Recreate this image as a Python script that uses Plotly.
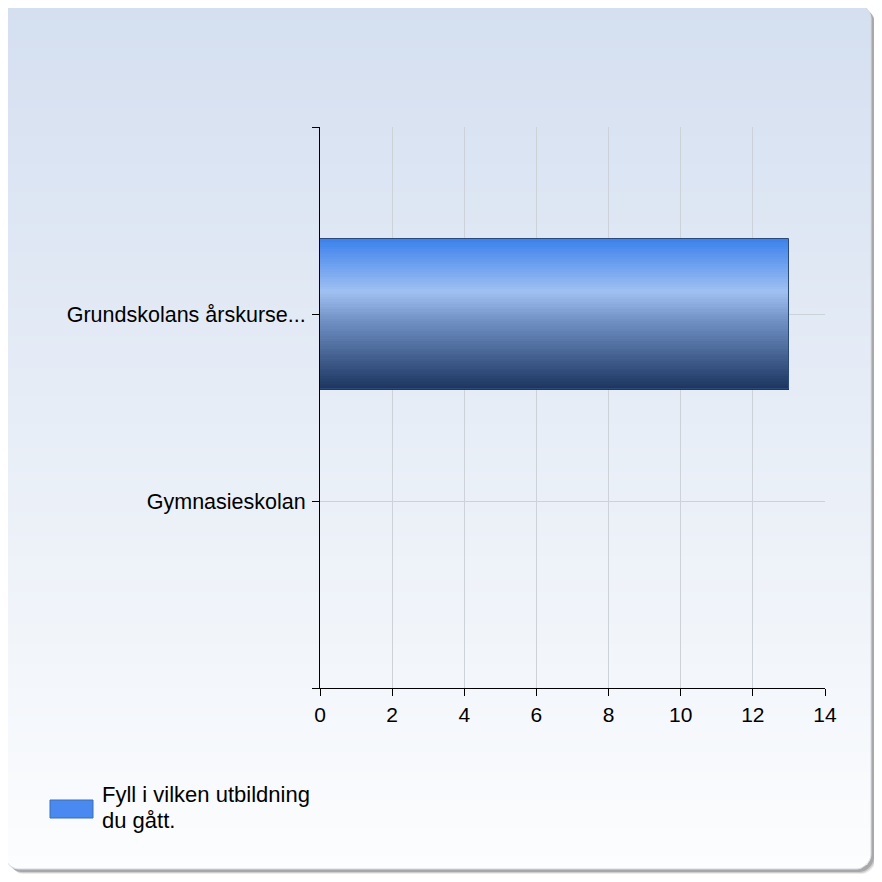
import plotly.graph_objects as go
import numpy as np

# data
categories = ["Grundskolans årskurse...", "Gymnasieskolan"]
counts = [13, 0]
series_name = "Fyll i vilken utbildning du gått."
x_ticks = [0, 2, 4, 6, 8, 10, 12, 14]

# page body has an 8px margin, so work in shifted pixel coordinates
OFF = 8
W, H = 874, 874
ML, MT = 320 - OFF, 127 - OFF
MR, MB = W - (825 - OFF), H - (688 - OFF)
PW, PH = W - ML - MR, H - MT - MB
FONT = "Arial, Liberation Sans, sans-serif"

# bar gradient (top -> bottom)
bar_stops = [(0.0, (60, 130, 236)), (0.35, (160, 192, 242)),
             (0.55, (112, 144, 196)), (1.0, (28, 53, 96))]


def px(x):
    return (x - OFF - ML) / PW


def py(y):
    return 1 - (y - OFF - MT) / PH


def interp(stops, t):
    for (t0, c0), (t1, c1) in zip(stops[:-1], stops[1:]):
        if t <= t1:
            f = (t - t0) / (t1 - t0) if t1 > t0 else 0
            return tuple(int(round(a + (b - a) * f)) for a, b in zip(c0, c1))
    return stops[-1][1]


def rrect_path(x0, y0, x1, y1, r):
    # rounded rect in reference pixels -> paper path
    k = 0.45 * r
    pts = [
        ("M", x0 + r, y0), ("L", x1 - r, y0),
        ("C", x1 - r + k, y0, x1, y0 + r - k, x1, y0 + r),
        ("L", x1, y1 - r),
        ("C", x1, y1 - r + k, x1 - r + k, y1, x1 - r, y1),
        ("L", x0 + r, y1),
        ("C", x0 + r - k, y1, x0, y1 - r + k, x0, y1 - r),
        ("L", x0, y0 + r),
        ("C", x0, y0 + r - k, x0 + r - k, y0, x0 + r, y0),
    ]
    out = []
    for p in pts:
        cmd, vals = p[0], p[1:]
        coords = []
        for i in range(0, len(vals), 2):
            coords.append(f"{px(vals[i]):.5f},{py(vals[i + 1]):.5f}")
        out.append(cmd + " ".join(coords))
    return " ".join(out) + " Z"


fig = go.Figure()

# gradient bar as thin bands
n_bands = 60
bar_w = 0.8
band = bar_w / n_bands
for i in range(n_bands):
    c = interp(bar_stops, (i + 0.5) / n_bands)
    fig.add_trace(go.Bar(
        y=[1, 2], x=counts, orientation="h",
        width=band * 1.6, offset=-bar_w / 2 + i * band,
        marker=dict(color=f"rgb{c}", line_width=0),
        showlegend=False, hoverinfo="skip",
    ))
# outline
fig.add_trace(go.Bar(
    y=[1, 2], x=counts, orientation="h", width=bar_w,
    marker=dict(color="rgba(0,0,0,0)", line=dict(color="#2b4a78", width=1)),
    name=series_name, showlegend=False,
))

shapes = []
# panel shadow
X0, Y0, X1, Y1, R = 4, 4, 871, 869, 14
for off, a in [(5, 0.08), (4, 0.12), (3, 0.18)]:
    shapes.append(dict(type="path", xref="paper", yref="paper", layer="below",
                       path=rrect_path(X0 + off, Y0 + off, X1 + off, Y1 + off, R),
                       fillcolor=f"rgba(0,0,0,{a})", line_width=0))
shapes.append(dict(type="path", xref="paper", yref="paper", layer="below",
                   path=rrect_path(X0, Y0, X1, Y1, R),
                   fillcolor="#ffffff", line_width=0))

# panel gradient strips
bg_top, bg_bot = (212, 223, 240), (252, 253, 254)
step = 4


def inset(yy):
    d = min(yy - Y0, Y1 - yy)
    if d >= R:
        return 0
    return R - np.sqrt(max(R * R - (R - d) ** 2, 0))


for y in range(Y0, Y1, step):
    ya, yb = y, min(y + step + 1, Y1)
    ia, ib = inset(ya), inset(yb)
    t = (y - Y0) / (Y1 - Y0)
    c = tuple(int(round(a + (b - a) * t)) for a, b in zip(bg_top, bg_bot))
    path = (f"M{px(X0 + ia):.5f},{py(ya):.5f} L{px(X1 - ia):.5f},{py(ya):.5f} "
            f"L{px(X1 - ib):.5f},{py(yb):.5f} L{px(X0 + ib):.5f},{py(yb):.5f} Z")
    shapes.append(dict(type="path", xref="paper", yref="paper", layer="below",
                       path=path, fillcolor=f"rgb{c}", line_width=0))

shapes.append(dict(type="path", xref="paper", yref="paper", layer="below",
                   path=rrect_path(X0, Y0, X1, Y1, R),
                   fillcolor="rgba(0,0,0,0)", line=dict(color="#d6dbe3", width=1)))

# legend swatch
shapes.append(dict(type="rect", xref="paper", yref="paper",
                   x0=px(50), x1=px(93), y0=py(818), y1=py(800),
                   fillcolor="#4a8af0", line=dict(color="#3a6cb8", width=1)))

# legend text, wrapped onto two tight lines
legend_lines = series_name.replace("utbildning ", "utbildning\n").split("\n")
annotations = []
for k, line in enumerate(legend_lines):
    annotations.append(dict(
        xref="paper", yref="paper", x=px(100), y=py(780 + 26 * k),
        xanchor="left", yanchor="top", align="left", showarrow=False,
        text=line, font=dict(family=FONT, size=22, color="#000000"),
    ))

fig.update_layout(
    width=W, height=H, autosize=False,
    margin=dict(l=ML, r=MR, t=MT, b=MB, pad=0),
    paper_bgcolor="#ffffff", plot_bgcolor="rgba(0,0,0,0)",
    barmode="overlay", bargap=0,
    font=dict(family=FONT, size=21, color="#000000"),
    shapes=shapes, annotations=annotations, showlegend=False,
)
fig.update_xaxes(
    range=[0, 14], tickvals=x_ticks, showgrid=True, gridcolor="#cdd1d8",
    gridwidth=1, zeroline=False, showline=True, linecolor="#000000",
    linewidth=1, ticks="outside", ticklen=7, tickcolor="#000000",
    tickfont=dict(size=21), ticklabelstandoff=1, fixedrange=True,
)
fig.update_yaxes(
    range=[3, 0], tickvals=[0, 1, 2, 3], ticktext=[""] + categories + [""],
    showgrid=True, gridcolor="#cdd1d8", gridwidth=1, zeroline=False,
    showline=True, linecolor="#000000", linewidth=1, ticks="outside",
    ticklen=7, tickcolor="#000000", tickfont=dict(size=21.5),
    ticklabelstandoff=2, fixedrange=True,
)

fig.write_html("out.html")
